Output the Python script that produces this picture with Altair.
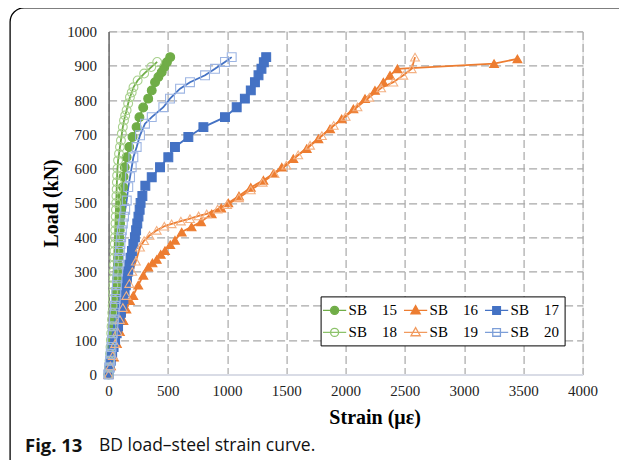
import altair as alt
import pandas as pd

series_names = ["SB 15", "SB 16", "SB 17", "SB 18", "SB 19", "SB 20"]
legend_order = ["SB 15", "SB 18", "SB 16", "SB 19", "SB 17", "SB 20"]

sb15_strain = [0, 8, 15, 22, 28, 34, 40, 45, 50, 55, 60, 63, 66, 70, 73, 76, 79, 82, 85, 88, 91, 94, 97, 100, 104, 108,
               114, 122, 126, 136, 152, 174, 202, 236, 260, 292, 334, 364, 392, 420, 448, 470, 492, 520]
sb15_load = [0, 20, 40, 60, 80, 100, 120, 140, 160, 180, 200, 220, 240, 260, 280, 300, 320, 340, 360, 380, 400, 420, 440,
             460, 480, 500, 520, 546, 576, 604, 633, 663, 692, 721, 750, 778, 804, 828, 852, 867, 881, 896, 910, 925]

sb16_strain = [0, 20, 45, 70, 95, 125, 150, 180, 208, 250, 293, 335, 370, 406, 440, 476, 520, 560, 617, 700, 780, 870,
               950, 1010, 1100, 1200, 1306, 1390, 1461, 1559, 1672, 1770, 1869, 1967, 2066, 2164, 2248, 2319, 2375, 2437,
               3253, 3450]
sb16_load = [0, 25, 50, 90, 125, 157, 190, 215, 230, 260, 289, 313, 325, 335, 350, 361, 378, 391, 415, 430, 445, 468,
             485, 500, 520, 545, 566, 585, 604, 629, 658, 687, 716, 745, 774, 804, 828, 852, 872, 891, 906, 920]

sb17_strain = [0, 8, 18, 30, 42, 55, 68, 80, 92, 104, 115, 125, 135, 145, 155, 165, 175, 185, 197, 209, 222, 232, 242,
               252, 262, 270, 285, 310, 364, 434, 504, 560, 673, 800, 982, 1081, 1150, 1200, 1235, 1265, 1290, 1310, 1330]
sb17_load = [0, 20, 40, 60, 80, 100, 120, 140, 160, 180, 200, 220, 240, 260, 280, 300, 320, 340, 360, 380, 400, 420,
             440, 460, 480, 500, 520, 550, 575, 604, 633, 663, 692, 721, 750, 779, 804, 828, 852, 872, 891, 910, 925]

sb18_strain = [0, 4, 8, 12, 16, 19, 22, 25, 28, 31, 34, 36, 38, 40, 42, 44, 46, 48, 50, 52, 54, 56, 58, 60, 62, 64, 66,
               68, 70, 72, 75, 80, 88, 96, 104, 112, 120, 130, 140, 152, 165, 180, 195, 210, 245, 300, 360, 410]
sb18_load = [0, 20, 40, 60, 80, 100, 120, 140, 160, 180, 200, 220, 240, 260, 280, 300, 320, 340, 360, 380, 400, 420,
             440, 460, 480, 500, 520, 540, 560, 580, 600, 624, 643, 663, 682, 702, 721, 740, 755, 770, 790, 808, 822,
             837, 857, 877, 896, 911]

sb19_strain = [0, 15, 35, 55, 75, 95, 120, 150, 175, 200, 230, 265, 300, 345, 406, 470, 532, 610, 687, 760, 828, 920,
               1000, 1100, 1200, 1300, 1400, 1500, 1600, 1700, 1800, 1900, 2000, 2100, 2200, 2300, 2403, 2487, 2558, 2586]
sb19_load = [0, 25, 55, 90, 125, 160, 195, 230, 265, 300, 330, 371, 390, 405, 420, 432, 439, 447, 454, 462, 468, 482,
             495, 515, 538, 560, 585, 610, 640, 668, 696, 726, 752, 780, 808, 835, 852, 872, 891, 925]

sb20_strain = [0, 6, 12, 18, 24, 30, 35, 40, 45, 50, 55, 60, 65, 70, 75, 80, 85, 90, 95, 100, 106, 112, 120, 130, 140,
               153, 166, 181, 195, 209, 237, 265, 307, 364, 462, 518, 603, 687, 814, 898, 982, 1039]
sb20_load = [0, 20, 40, 60, 80, 100, 120, 140, 160, 180, 200, 220, 240, 260, 280, 300, 320, 340, 360, 380, 400, 420,
             440, 460, 480, 507, 546, 575, 604, 633, 663, 697, 731, 750, 779, 804, 833, 852, 872, 891, 911, 925]

x_ticks = [0, 500, 1000, 1500, 2000, 2500, 3000, 3500, 4000]
y_ticks = [0, 100, 200, 300, 400, 500, 600, 700, 800, 900, 1000]

line_colors = ["#70AD47", "#ED7D31", "#4472C4", "#70AD47", "#ED7D31", "#4472C4"]
line_widths = [1.8, 1.8, 1.8, 1.3, 1.3, 1.3]
marker_strokes = ["#70AD47", "#ED7D31", "#4472C4", "#A9D18E", "#F4B183", "#9DB5E3"]
marker_fills = ["#70AD47", "#ED7D31", "#4472C4", "transparent", "transparent", "transparent"]
marker_shapes = ["circle", "triangle-up", "square", "circle", "triangle-up", "square"]

# legend styling, in legend_order
legend_strokes = ["#70AD47", "#8CC26A", "#ED7D31", "#F19A5E", "#4472C4", "#7C9ED8"]
legend_fills = ["#70AD47", "white", "#ED7D31", "white", "#4472C4", "white"]
circ = "A0.5,0.5,0,1,1,-0.5,0A0.5,0.5,0,1,1,0.5,0Z"
p_circle = "M-1.45,0L1.45,0M0.5,0" + circ
p_tri = "M-1.45,0L1.45,0M0,-0.6L0.58,0.42L-0.58,0.42Z"
p_sq = "M-1.45,0L1.45,0M-0.48,-0.48L0.48,-0.48L0.48,0.48L-0.48,0.48Z"
legend_paths = [p_circle, p_circle, p_tri, p_tri, p_sq, p_sq]

caption_bold = "Fig. 13"
caption_text = "BD load\u2013steel strain curve."

all_strain = [sb15_strain, sb16_strain, sb17_strain, sb18_strain, sb19_strain, sb20_strain]
all_load = [sb15_load, sb16_load, sb17_load, sb18_load, sb19_load, sb20_load]
rows = []
for name, xs, ys in zip(series_names, all_strain, all_load):
    for i, (sx, ly) in enumerate(zip(xs, ys)):
        rows.append({"series": name, "strain": sx, "load": ly, "idx": i})
df = pd.DataFrame(rows)

serif = "Liberation Serif"

x_enc = alt.X("strain:Q", scale=alt.Scale(domain=[0, 4000], nice=False),
              axis=alt.Axis(values=x_ticks, format="d", title="Strain (\u03bc\u03b5)", labelPadding=9,
                            domainColor="#d9dce6", domainWidth=2,
                            titleX=266, titleY=43, titleBaseline="middle"))
y_enc = alt.Y("load:Q", scale=alt.Scale(domain=[0, 1000], nice=False),
              axis=alt.Axis(values=y_ticks, format="d", title="Load (kN)", labelPadding=12,
                            domainColor="#6e6e6e", domainWidth=1.5,
                            titleX=-57, titleY=171.5, titleBaseline="middle"))

base = alt.Chart(df)

frame = alt.Chart(pd.DataFrame({"k": [0]})).mark_rect(
    fill="transparent", stroke="black", strokeWidth=1.3, cornerRadius=14, clip=False
).encode(x=alt.value(-98.5), x2=alt.value(700), y=alt.value(-23.5), y2=alt.value(600))

lines = base.mark_line(clip=False).encode(
    x=x_enc, y=y_enc,
    stroke=alt.Stroke("series:N", scale=alt.Scale(domain=series_names, range=line_colors), legend=None),
    size=alt.Size("series:N", scale=alt.Scale(domain=series_names, range=line_widths), legend=None),
    order=alt.Order("idx:Q"),
)

points = base.mark_point(size=78, strokeWidth=1.1, opacity=1, clip=False).encode(
    x=x_enc, y=y_enc,
    shape=alt.Shape("series:N", scale=alt.Scale(domain=series_names, range=marker_shapes), legend=None),
    stroke=alt.Stroke("series:N", scale=alt.Scale(domain=series_names, range=marker_strokes), legend=None),
    fill=alt.Fill("series:N", scale=alt.Scale(domain=series_names, range=marker_fills), legend=None),
)

nb = "\u00a0\u00a0\u00a0\u00a0"
leg = alt.Legend(orient="none", legendX=212, legendY=265, columns=3, title=None, symbolSize=256,
                 symbolStrokeWidth=1.3, labelFont=serif, labelFontSize=15, labelColor="black", labelOffset=5,
                 padding=5, strokeColor="black", fillColor="white", columnPadding=3, rowPadding=5,
                 labelExpr="replace(datum.label, ' ', '" + nb + "')", symbolOpacity=1)

legend_layer = base.transform_filter("false").mark_point(size=256, strokeWidth=1.3, filled=True).encode(
    x=x_enc, y=y_enc,
    shape=alt.Shape("series:N", scale=alt.Scale(domain=legend_order, range=legend_paths), legend=leg),
    stroke=alt.Stroke("series:N", scale=alt.Scale(domain=legend_order, range=legend_strokes), legend=leg),
    fill=alt.Fill("series:N", scale=alt.Scale(domain=legend_order, range=legend_fills), legend=leg),
)

cap1 = alt.Chart(pd.DataFrame({"t": [caption_bold]})).mark_text(
    font="Open Sans", fontSize=18.5, fontWeight="bold", align="left", baseline="middle", color="#111"
).encode(x=alt.value(-83.6), y=alt.value(414.6), text="t:N")
cap2 = alt.Chart(pd.DataFrame({"t": [caption_text]})).mark_text(
    font="Open Sans", fontSize=17.5, align="left", baseline="middle", color="#111"
).encode(x=alt.value(-9.6), y=alt.value(414.6), text="t:N")

chart = alt.layer(frame, lines, points, legend_layer, cap1, cap2).resolve_scale(
    shape="independent", stroke="independent", fill="independent", size="independent"
).properties(
    width=474, height=343,
    autosize=alt.AutoSizeParams(type="none"),
    padding={"left": 100.6, "top": 23.4, "right": 36, "bottom": 85.6},
).configure_view(stroke="#6e6e6e", strokeWidth=1.5).configure(background="white").configure_axis(
    labelFont=serif, labelFontSize=15, labelColor="#222", ticks=False,
    grid=True, gridColor="#a8a8a8", gridDash=[8, 4], gridWidth=1.2,
    titleFont=serif, titleFontSize=20, titleFontWeight="bold", titleColor="black",
    labelOverlap=False, labelFlush=False,
)

chart.save("out.html", embed_options={"renderer": "svg", "actions": False})
